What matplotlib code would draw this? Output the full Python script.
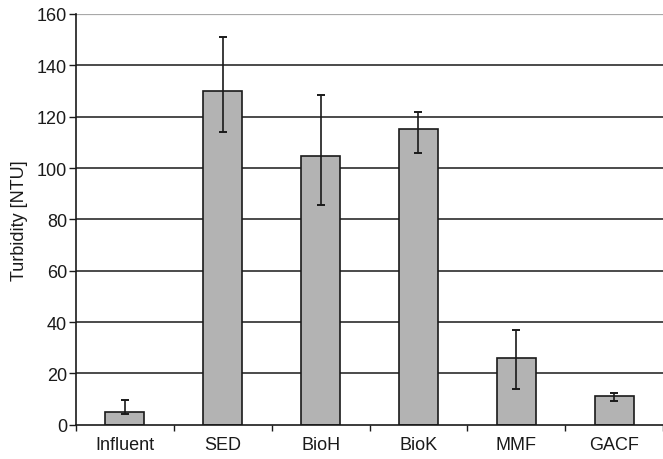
import matplotlib
matplotlib.use("Agg")
import matplotlib.pyplot as plt
import numpy as np

plt.rcParams['font.family'] = ['Liberation Sans', 'DejaVu Sans']

# Mean turbidity per treatment stage with lower / upper error limits
categories = ["Influent", "SED", "BioH", "BioK", "MMF", "GACF"]
turbidity = [4.8, 130.0, 104.5, 115.3, 26.0, 11.0]
err_low_limit = [4.2, 114.0, 85.5, 106.0, 14.0, 9.4]
err_high_limit = [9.5, 151.0, 128.5, 122.0, 37.0, 12.3]
y_ticks = [0, 20, 40, 60, 80, 100, 120, 140, 160]

W, H = 663, 460
fig = plt.figure(figsize=(W / 100, H / 100), dpi=100)
ax = fig.add_axes([76 / W, (H - 425.7) / H, (W - 76) / W, (425.7 - 15) / H])

x = np.arange(len(categories))
vals = np.array(turbidity)
yerr = np.vstack([vals - np.array(err_low_limit), np.array(err_high_limit) - vals])

# horizontal gridlines
for t in y_ticks[1:]:
    ax.axhline(t, color="#a8a8a8" if t == 160 else "#1a1a1a",
               lw=1.1 if t != 160 else 1.6, zorder=1)

ax.bar(x, vals, width=0.40, color="#b3b3b3", edgecolor="#1a1a1a",
       linewidth=1.2, zorder=2)
ax.errorbar(x, vals, yerr=yerr, fmt="none", ecolor="#1a1a1a",
            elinewidth=1.2, capsize=2.6, capthick=1.4, zorder=3)

ax.set_xlim(-0.5, -0.5 + (W - 76) / 98.3)
ax.set_ylim(0, 160)
ax.set_yticks(y_ticks)
ax.tick_params(axis="y", direction="out", length=5, width=1, color="#1a1a1a",
               labelsize=13, pad=1.5, labelcolor="#1a1a1a")

# category labels centred under bars, tick marks at category boundaries
ax.set_xticks(np.arange(len(categories) + 1) - 0.5)
ax.set_xticklabels([])
ax.tick_params(axis="x", direction="out", length=4, width=1, color="#1a1a1a")
ax.set_xticks(x, minor=True)
ax.set_xticklabels(categories, minor=True, fontsize=13, color="#1a1a1a")
ax.tick_params(axis="x", which="minor", length=0, pad=8)

for s in ["top", "right"]:
    ax.spines[s].set_visible(False)
for s in ["left", "bottom"]:
    ax.spines[s].set_color("#1a1a1a")
    ax.spines[s].set_linewidth(1.2)

ax.set_ylabel("Turbidity [NTU]", fontsize=13, color="#1a1a1a", labelpad=6)

fig.savefig("out.png", dpi=100)
